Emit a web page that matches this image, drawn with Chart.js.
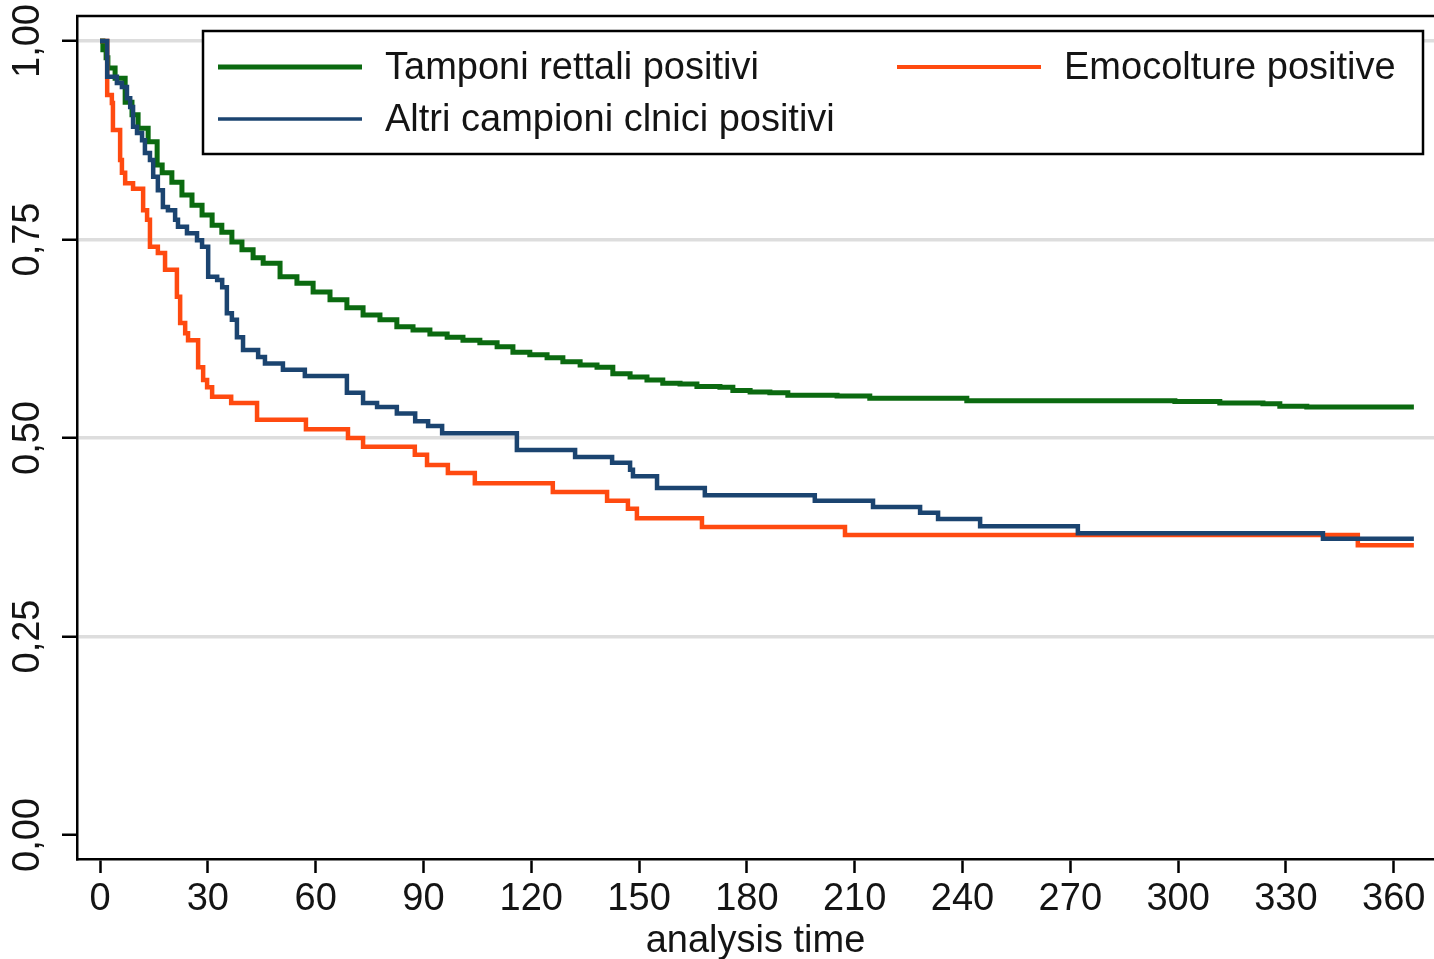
<!DOCTYPE html>
<html>
<head>
<meta charset="utf-8">
<script src="https://cdn.jsdelivr.net/npm/chart.js@4.4.1/dist/chart.umd.min.js"></script>
<style>
  html, body { margin: 0; padding: 0; background: #fff; }
  canvas { display: block; }
</style>
</head>
<body>
<canvas id="kmChart" width="1434" height="959"></canvas>
<script>
// Kaplan-Meier curves, values
const xTicks = [0, 30, 60, 90, 120, 150, 180, 210, 240, 270, 300, 330, 360];
const yTicks = [0, 0.25, 0.5, 0.75, 1];

const tamponiLabel = 'Tamponi rettali positivi';
const tamponiDays = [0, 0.8, 1.7, 2.2, 4.2, 7.0, 8.9, 10.6, 13.4, 15.9, 17.3, 20.0, 22.8, 25.6, 28.4, 31.2, 33.9, 36.7, 39.5, 42.6,
  45.4, 50.1, 54.8, 59.3, 64.0, 68.7, 73.2, 77.9, 82.6, 87.1, 91.8, 96.6, 101.0, 105.7, 110.5, 114.9, 119.6, 124.4, 128.8, 133.6,
  138.3, 142.7, 147.5, 152.2, 156.6, 161.4, 166.1, 172.5, 176.1, 180.9, 186.4, 191.4, 205.1, 214.2, 241.2, 299.1, 311.6, 323.6, 328.3, 335.8,
  365.6];
const tamponiSurv = [1, 0.989, 0.979, 0.966, 0.953, 0.923, 0.907, 0.890, 0.873, 0.844, 0.834, 0.822, 0.806, 0.793, 0.781, 0.768, 0.759, 0.747, 0.737, 0.727,
  0.720, 0.703, 0.695, 0.684, 0.674, 0.664, 0.655, 0.649, 0.640, 0.636, 0.631, 0.627, 0.623, 0.620, 0.615, 0.608, 0.605, 0.601, 0.596, 0.592,
  0.589, 0.581, 0.577, 0.573, 0.569, 0.568, 0.565, 0.564, 0.560, 0.558, 0.557, 0.554, 0.553, 0.550, 0.547, 0.546, 0.544, 0.543, 0.540, 0.539,
  0.539];

const emoLabel = 'Emocolture positive';
const emoDays = [0, 2.0, 3.3, 3.6, 5.6, 6.1, 7.0, 9.2, 12.0, 13.1, 13.9, 16.1, 18.1, 21.4, 22.3, 23.7, 24.5, 27.3, 28.7, 29.8,
  31.2, 36.5, 43.7, 57.3, 69.0, 73.2, 87.6, 91.0, 96.8, 104.3, 126.0, 141.1, 146.9, 149.4, 167.5, 207.3, 350.0, 365.6];
const emoSurv = [1, 0.932, 0.922, 0.888, 0.850, 0.834, 0.821, 0.814, 0.787, 0.775, 0.741, 0.733, 0.712, 0.678, 0.645, 0.632, 0.623, 0.589, 0.573, 0.564,
  0.552, 0.544, 0.523, 0.511, 0.500, 0.489, 0.479, 0.466, 0.456, 0.443, 0.432, 0.421, 0.411, 0.399, 0.388, 0.378, 0.365, 0.365];

const altriLabel = 'Altri campioni clnici positivi';
const altriDays = [0, 2.0, 4.7, 6.1, 7.5, 8.4, 9.2, 10.3, 11.7, 12.5, 13.9, 14.8, 16.1, 17.5, 18.9, 20.9, 21.7, 24.2, 27.0, 28.4,
  30.1, 32.6, 34.0, 35.3, 36.7, 38.1, 39.8, 44.0, 45.9, 50.9, 57.0, 68.7, 73.2, 77.1, 82.6, 87.7, 91.3, 95.2, 116.0, 132.2,
  142.5, 147.5, 148.3, 155.0, 168.3, 198.9, 215.1, 228.2, 233.2, 244.9, 272.1, 340.3, 365.6];
const altriSurv = [1, 0.955, 0.947, 0.942, 0.928, 0.917, 0.892, 0.884, 0.875, 0.859, 0.850, 0.829, 0.812, 0.791, 0.787, 0.775, 0.766, 0.758, 0.749, 0.741,
  0.703, 0.699, 0.690, 0.657, 0.649, 0.627, 0.611, 0.602, 0.594, 0.586, 0.578, 0.557, 0.544, 0.539, 0.531, 0.521, 0.515, 0.506, 0.485, 0.476,
  0.469, 0.460, 0.452, 0.437, 0.428, 0.421, 0.413, 0.406, 0.398, 0.389, 0.380, 0.373, 0.373];

const FONT = '"Liberation Sans", Arial, sans-serif';
const TEXT = '#141414';

function toPoints(days, surv) {
    return days.map((d, i) => ({ x: d, y: surv[i] }));
}

// legend layout: rows of dataset indexes, two columns
const legendRows = [[0, 1], [2]];
const legendCols = [15, 694];

const legendBox = {
    id: 'legendBox',
    afterDraw(chart) {
        const { ctx, chartArea } = chart;
        const left = chartArea.left + 126, top = chartArea.top + 15;
        const w = chartArea.right - 11 - left, h = 123;
        ctx.save();
        ctx.fillStyle = '#fff';
        ctx.fillRect(left, top, w, h);
        ctx.strokeStyle = '#000';
        ctx.lineWidth = 2.5;
        ctx.strokeRect(left, top, w, h);
        ctx.font = '38px ' + FONT;
        ctx.textBaseline = 'middle';
        legendRows.forEach((row, r) => {
            row.forEach((idx, c) => {
                const ds = chart.data.datasets[idx];
                const x0 = left + legendCols[c];
                const y = top + 36 + r * 52;
                ctx.strokeStyle = ds.borderColor;
                ctx.lineWidth = ds.legendWidth;
                ctx.beginPath();
                ctx.moveTo(x0, y);
                ctx.lineTo(x0 + 144, y);
                ctx.stroke();
                ctx.fillStyle = TEXT;
                ctx.fillText(ds.label, x0 + 167, y + 2);
            });
        });
        ctx.restore();
    }
};

// top edge of the plot frame
const topFrame = {
    id: 'topFrame',
    afterDraw(chart) {
        const { ctx, chartArea } = chart;
        ctx.save();
        ctx.strokeStyle = '#000';
        ctx.lineWidth = 2.5;
        ctx.beginPath();
        ctx.moveTo(chartArea.left - 1, chartArea.top);
        ctx.lineTo(chartArea.right, chartArea.top);
        ctx.stroke();
        ctx.restore();
    }
};

new Chart(document.getElementById('kmChart').getContext('2d'), {
    type: 'line',
    data: {
        datasets: [
            { label: tamponiLabel, data: toPoints(tamponiDays, tamponiSurv), borderColor: '#0b6a10', borderWidth: 5, legendWidth: 5, order: 3 },
            { label: emoLabel, data: toPoints(emoDays, emoSurv), borderColor: '#ff4a10', borderWidth: 4.5, legendWidth: 4, order: 2 },
            { label: altriLabel, data: toPoints(altriDays, altriSurv), borderColor: '#1b4470', borderWidth: 4.5, legendWidth: 3.5, order: 1 }
        ]
    },
    options: {
        responsive: false,
        animation: false,
        devicePixelRatio: 1,
        layout: { padding: { top: 16, left: 0, right: 0, bottom: 0 } },
        elements: {
            point: { radius: 0, hoverRadius: 0 },
            line: { stepped: true, fill: false, borderCapStyle: 'butt', borderJoinStyle: 'miter' }
        },
        plugins: {
            legend: { display: false },
            tooltip: { enabled: false }
        },
        scales: {
            x: {
                type: 'linear',
                min: -6.4,
                max: 371.2,
                afterBuildTicks: s => { s.ticks = xTicks.map(v => ({ value: v })); },
                afterFit: s => { s.height = 100; s.paddingLeft = 0; s.paddingRight = 0; },
                ticks: {
                    font: { size: 38, family: FONT },
                    color: TEXT,
                    padding: 4,
                    maxRotation: 0,
                    autoSkip: false
                },
                grid: { drawOnChartArea: false, tickLength: 14, tickColor: '#000', tickWidth: 2.5 },
                border: { display: true, color: '#000', width: 2.5 },
                title: {
                    display: true,
                    text: 'analysis time',
                    font: { size: 38, family: FONT },
                    color: TEXT,
                    padding: { top: 0, bottom: -5 }
                }
            },
            y: {
                type: 'linear',
                min: -0.0302,
                max: 1.0315,
                afterBuildTicks: s => { s.ticks = yTicks.map(v => ({ value: v })); },
                afterFit: s => { s.width = 77; s.paddingTop = 0; s.paddingBottom = 0; },
                ticks: {
                    font: { size: 38, family: FONT },
                    color: TEXT,
                    minRotation: 90,
                    maxRotation: 90,
                    crossAlign: 'center',
                    padding: -3,
                    autoSkip: false,
                    callback: v => v.toFixed(2).replace('.', ',')
                },
                grid: {
                    color: c => (c.tick && c.tick.value === 0) ? 'rgba(0,0,0,0)' : '#dddddd',
                    lineWidth: 3.5,
                    tickLength: 15,
                    tickColor: '#000',
                    tickWidth: 2.5
                },
                border: { display: true, color: '#000', width: 2.5 }
            }
        }
    },
    plugins: [legendBox, topFrame]
});
</script>
</body>
</html>
